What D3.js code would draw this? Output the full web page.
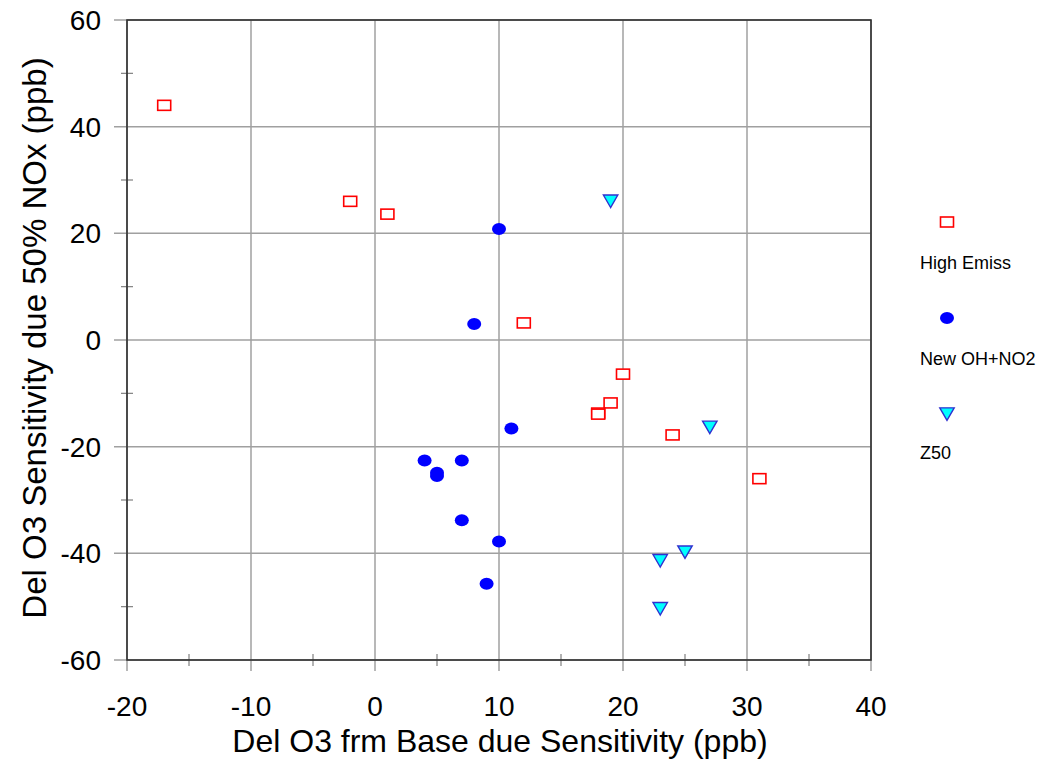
<!DOCTYPE html>
<html>
<head>
<meta charset="utf-8">
<script src="https://cdn.jsdelivr.net/npm/d3@7"></script>
<style>
  body { margin: 0; background: #fff; }
  text { font-family: "Liberation Sans", Arial, sans-serif; fill: #000; }
</style>
</head>
<body>
<div id="chart"></div>
<script>
// series data: [x, y]
var highEmiss = [[-17, 44], [-2, 26], [1, 23.6], [12, 3.2], [20, -6.4], [19, -11.8], [18, -13.7], [18, -13.9], [24, -17.8], [31, -26]];
var newOhNo2 = [[10, 20.8], [8, 3], [11, -16.6], [4, -22.6], [7, -22.6], [5, -24.9], [5, -25.5], [7, -33.8], [10, -37.8], [9, -45.7]];
var z50 = [[19, 26.4], [27, -16], [23, -41], [25, -39.4], [23, -50]];

var xTicks = [-20, -10, 0, 10, 20, 30, 40];
var yTicks = [-60, -40, -20, 0, 20, 40, 60];
var xMinor = [-15, -5, 5, 15, 25, 35];
var yMinor = [-50, -30, -10, 10, 30, 50];

var seriesNames = ["High Emiss", "New OH+NO2", "Z50"];

var width = 1047, height = 762;
var margin = { top: 20, right: 176, bottom: 102, left: 127 };

var svg = d3.select("#chart").append("svg")
    .attr("width", width)
    .attr("height", height);

var x = d3.scaleLinear().domain([-20, 40]).range([margin.left, width - margin.right]);
var y = d3.scaleLinear().domain([-60, 60]).range([height - margin.bottom, margin.top]);

// grid lines (extend a bit past the axes like the original)
svg.append("g").selectAll("line.vgrid")
    .data(xTicks).enter().append("line")
    .attr("x1", d => x(d)).attr("x2", d => x(d))
    .attr("y1", y(60)).attr("y2", y(-60) + 11)
    .attr("stroke", "#a0a0a0").attr("stroke-width", 1.5);

svg.append("g").selectAll("line.hgrid")
    .data(yTicks).enter().append("line")
    .attr("x1", x(-20) - 13).attr("x2", x(40))
    .attr("y1", d => y(d)).attr("y2", d => y(d))
    .attr("stroke", "#a0a0a0").attr("stroke-width", 1.5);

// minor ticks
svg.append("g").selectAll("line")
    .data(xMinor).enter().append("line")
    .attr("x1", d => x(d)).attr("x2", d => x(d))
    .attr("y1", y(-60) - 6).attr("y2", y(-60) + 6)
    .attr("stroke", "#808080").attr("stroke-width", 1.2);

svg.append("g").selectAll("line")
    .data(yMinor).enter().append("line")
    .attr("x1", x(-20) - 6).attr("x2", x(-20) + 6)
    .attr("y1", d => y(d)).attr("y2", d => y(d))
    .attr("stroke", "#808080").attr("stroke-width", 1.2);

// plot frame
svg.append("rect")
    .attr("x", x(-20)).attr("y", y(60))
    .attr("width", x(40) - x(-20)).attr("height", y(-60) - y(60))
    .attr("fill", "none").attr("stroke", "#303030").attr("stroke-width", 1.6);

// tick labels
svg.append("g").selectAll("text")
    .data(xTicks).enter().append("text")
    .attr("x", d => x(d)).attr("y", y(-60) + 56)
    .attr("text-anchor", "middle")
    .style("font-size", "28px")
    .text(d => d);

svg.append("g").selectAll("text")
    .data(yTicks).enter().append("text")
    .attr("x", x(-20) - 26).attr("y", d => y(d) + 10)
    .attr("text-anchor", "end")
    .style("font-size", "28px")
    .text(d => d);

// axis titles
svg.append("text")
    .attr("x", x(10) + 1).attr("y", 752)
    .attr("text-anchor", "middle")
    .style("font-size", "32px")
    .text("Del O3 frm Base due Sensitivity (ppb)");

svg.append("text")
    .attr("transform", "translate(46,338) rotate(-90)")
    .attr("text-anchor", "middle")
    .style("font-size", "33px")
    .text("Del O3 Sensitivity due 50% NOx (ppb)");

// markers
function drawSquares(g, pts) {
    g.selectAll("rect").data(pts).enter().append("rect")
        .attr("x", d => x(d[0]) - 6.5).attr("y", d => y(d[1]) - 5)
        .attr("width", 13).attr("height", 10)
        .attr("fill", "#fff").attr("stroke", "#ff0000").attr("stroke-width", 1.6);
}
function drawDots(g, pts) {
    g.selectAll("ellipse").data(pts).enter().append("ellipse")
        .attr("cx", d => x(d[0])).attr("cy", d => y(d[1]))
        .attr("rx", 7).attr("ry", 6)
        .attr("fill", "#0000ff");
}
var tri = d3.symbol().type(d3.symbolTriangle).size(90);
function drawTriangles(g, pts) {
    g.selectAll("path").data(pts).enter().append("path")
        .attr("d", tri)
        .attr("transform", d => "translate(" + x(d[0]) + "," + y(d[1]) + ") rotate(180)")
        .attr("fill", "#00ffff").attr("stroke", "#3030d0").attr("stroke-width", 1.4);
}

drawSquares(svg.append("g"), highEmiss);
drawDots(svg.append("g"), newOhNo2);
drawTriangles(svg.append("g"), z50);

// legend
var legX = 947, legY = [222, 318, 412];
var leg = svg.append("g");
leg.append("rect")
    .attr("x", legX - 6.5).attr("y", legY[0] - 5)
    .attr("width", 13).attr("height", 10)
    .attr("fill", "#fff").attr("stroke", "#ff0000").attr("stroke-width", 1.6);
leg.append("ellipse")
    .attr("cx", legX).attr("cy", legY[1]).attr("rx", 7).attr("ry", 6)
    .attr("fill", "#0000ff");
leg.append("path")
    .attr("d", tri)
    .attr("transform", "translate(" + legX + "," + legY[2] + ") rotate(180)")
    .attr("fill", "#00ffff").attr("stroke", "#3030d0").attr("stroke-width", 1.4);

leg.selectAll("text").data(seriesNames).enter().append("text")
    .attr("x", 920).attr("y", (d, i) => legY[i] + 47)
    .style("font-size", "18px")
    .text(d => d);
</script>
</body>
</html>
